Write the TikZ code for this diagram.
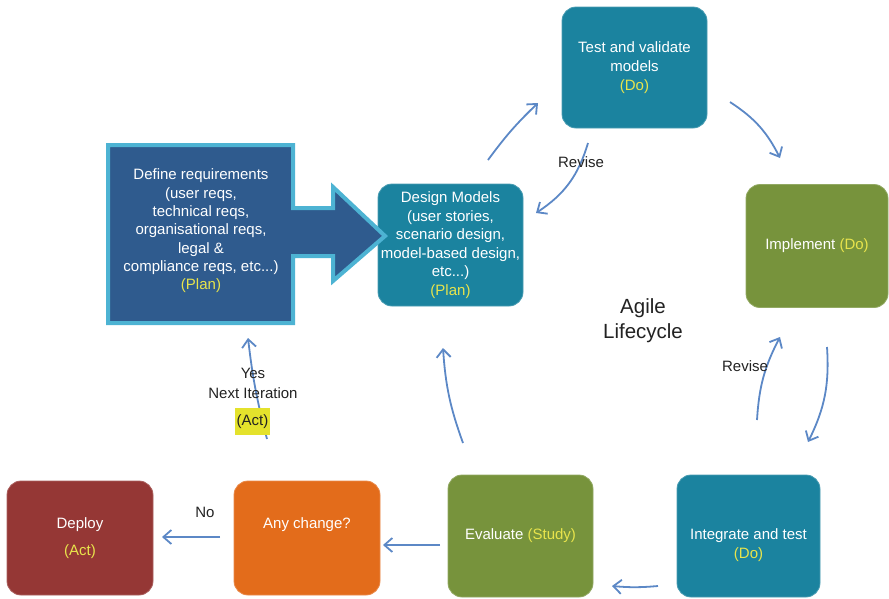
\documentclass[tikz,border=0pt]{standalone}
\usepackage{fontspec}
\setmainfont{Liberation Sans}
\usetikzlibrary{arrows.meta}

\definecolor{tealbox}{HTML}{1B839F}
\definecolor{greenbox}{HTML}{77933C}
\definecolor{orangebox}{HTML}{E36C1B}
\definecolor{redbox}{HTML}{953735}
\definecolor{reqblue}{HTML}{2F5B8E}
\definecolor{reqedge}{HTML}{4DB3D3}
\definecolor{tagyellow}{HTML}{E8E44C}
\definecolor{flow}{HTML}{5C88C6}
\definecolor{ink}{HTML}{222222}
\definecolor{hilite}{HTML}{E4E22C}

\tikzset{
  stage/.style={rounded corners=14pt, inner sep=0pt, text=white, align=center,
    line width=0.8pt, font=\fontsize{15}{19}\selectfont},
  stagetext/.style={inner sep=0pt, text=white, align=center, font=\fontsize{15}{19}\selectfont},
  flowarrow/.style={draw=flow, line width=1.8pt,
    -{Straight Barb[length=8pt,width=14pt,line width=1.8pt]}},
  note/.style={text=ink, align=center, font=\fontsize{15}{20}\selectfont},
}

\begin{document}
\begin{tikzpicture}[x=1pt,y=-1pt]
\useasboundingbox (0,0) rectangle (889,598);

% stages of the cycle
\node[stage, fill=tealbox, draw=tealbox!80!white, minimum width=145pt, minimum height=121pt]
  (test) at (634.5,67.5) {Test and validate\\models\\\textcolor{tagyellow}{(Do)}};
\node[stage, fill=tealbox, draw=tealbox!80!white, minimum width=145pt, minimum height=122pt,
  font=\fontsize{15}{18.5}\selectfont]
  (design) at (450.5,245) {Design Models\\(user stories,\\scenario design,\\model-based design,\\etc...)\\\textcolor{tagyellow}{(Plan)}};
\node[stage, fill=greenbox, draw=greenbox!80!white, minimum width=142pt, minimum height=123pt]
  (impl) at (817,246) {Implement \textcolor{tagyellow}{(Do)}};
\node[stage, fill=tealbox, draw=tealbox!80!white, minimum width=143pt, minimum height=122pt]
  (integ) at (748.5,536) {};
\node[stagetext] (integtext) at (748.5,545) {Integrate and test\\\textcolor{tagyellow}{(Do)}};
\node[stage, fill=greenbox, draw=greenbox!80!white, minimum width=145pt, minimum height=122pt]
  (eval) at (520.5,536) {Evaluate \textcolor{tagyellow}{(Study)}};
\node[stage, fill=orangebox, draw=orangebox!80!white, minimum width=146pt, minimum height=114pt]
  (change) at (307,538) {};
\node[stagetext] (changetext) at (307,525) {Any change?};
\node[stage, fill=redbox, draw=redbox!80!white, minimum width=146pt, minimum height=114pt]
  (deploy) at (80,538) {Deploy\\[8pt]\textcolor{tagyellow}{(Act)}};

% requirements block with its block arrow
\draw[fill=reqblue, draw=reqedge, line width=4pt, line join=miter]
  (108,145) -- (293,145) -- (293,208) -- (333,208) -- (333,187) -- (385,236)
  -- (333,281) -- (333,256) -- (293,256) -- (293,323) -- (108,323) -- cycle;
\node[stagetext, font=\fontsize{15}{18.3}\selectfont] (req) at (201,231)
  {Define requirements\\(user reqs,\\technical reqs,\\organisational reqs,\\legal \&\\compliance reqs, etc...)\\\textcolor{tagyellow}{(Plan)}};

% free ends of the flow arrows
\coordinate (d2t-a) at (488,160);  \coordinate (d2t-b) at (538,103);
\coordinate (t2d-a) at (588,143);  \coordinate (t2d-b) at (536,213);
\coordinate (t2i-a) at (730,102);  \coordinate (t2i-b) at (780,158);
\coordinate (i2g-a) at (827,347);  \coordinate (i2g-b) at (808,442);
\coordinate (g2i-a) at (757,420);  \coordinate (g2i-b) at (780,337);
\coordinate (g2e-a) at (658,586);  \coordinate (g2e-b) at (612,586);
\coordinate (e2c-a) at (440,545);  \coordinate (e2c-b) at (383,545);
\coordinate (c2d-a) at (220,537);  \coordinate (c2d-b) at (162,537);
\coordinate (c2r-a) at (267,439);  \coordinate (c2r-b) at (248,338);
\coordinate (e2m-a) at (463,443);  \coordinate (e2m-b) at (443,348);

\draw[flowarrow] (d2t-a) to[bend left=5] (d2t-b);
\draw[flowarrow] (t2d-a) to[bend left=20] (t2d-b);
\draw[flowarrow] (t2i-a) to[bend left=15] (t2i-b);
\draw[flowarrow] (i2g-a) to[bend left=15] (i2g-b);
\draw[flowarrow] (g2i-a) to[bend left=12] (g2i-b);
\draw[flowarrow] (g2e-a) to[bend left=5] (g2e-b);
\draw[flowarrow] (e2c-a) -- (e2c-b);
\draw[flowarrow] (c2d-a) -- (c2d-b);
\draw[flowarrow] (c2r-a) to[bend left=4] (c2r-b);
\draw[flowarrow] (e2m-a) to[bend left=8] (e2m-b);

% labels
\node[note] (revtop) at (581,162) {Revise};
\node[note] (revright) at (745,366) {Revise};
\node[note] (no) at (205,512) {No};
\node[note] (yes) at (253,383) {Yes\\Next Iteration};
\node[fill=hilite, text=ink, inner sep=0pt, minimum width=35pt, minimum height=27pt,
  font=\fontsize{15}{18}\selectfont] (act) at (252.5,421.5) {(Act)};
\node[note, font=\fontsize{20.5}{25}\selectfont] (agile) at (643,321) {Agile\\Lifecycle};
\end{tikzpicture}
\end{document}
